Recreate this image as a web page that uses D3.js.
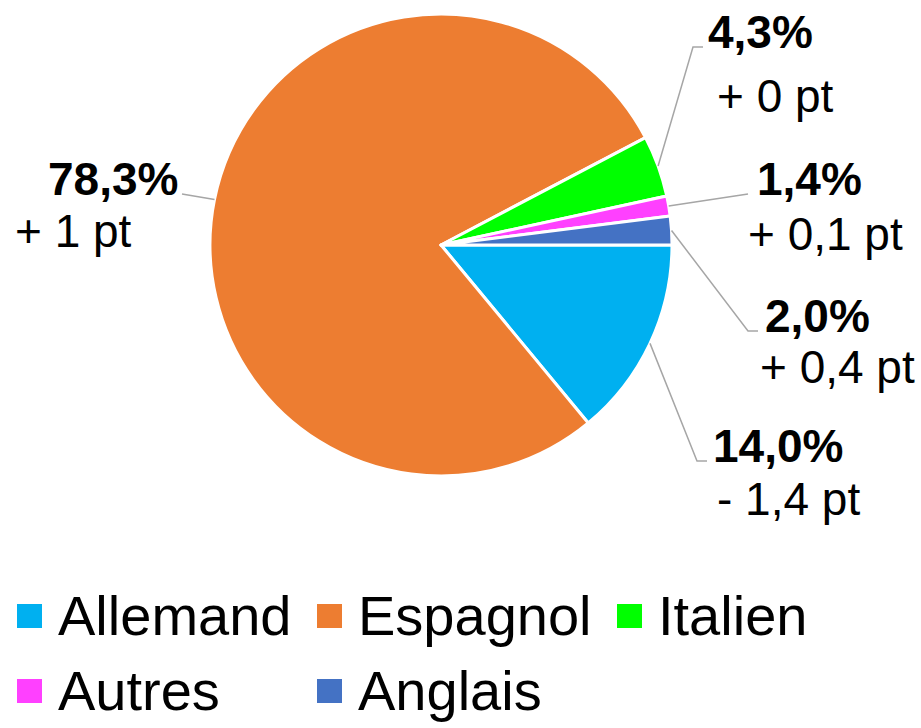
<!DOCTYPE html>
<html>
<head>
<meta charset="utf-8">
<script src="https://cdn.jsdelivr.net/npm/d3@7"></script>
<style>
  html, body { margin: 0; padding: 0; background: #fff; }
  svg { display: block; font-family: "Liberation Sans", Arial, sans-serif; }
</style>
</head>
<body>
<svg id="chart" width="921" height="728"></svg>
<script>
// ---- data ----
const categories = ["Allemand", "Espagnol", "Italien", "Autres", "Anglais"];
const shares = [14.0, 78.3, 4.3, 1.4, 2.0];
const changes = ["- 1,4 pt", "+ 1 pt", "+ 0 pt", "+ 0,1 pt", "+ 0,4 pt"];
const colors = ["#00B0F0", "#ED7D31", "#00FF00", "#FF40FF", "#4472C4"];

// ---- layout ----
const W = 921, H = 728;
const cx = 441, cy = 245, R = 231;

// label layout per slice (percent line x/baseline, change line x/baseline, elbow x)
const labelLayout = [
  { px: 713, py: 462, cx: 717, cy: 515, lx: 707, elbow: 697 },
  { px: 48,  py: 195, cx: 15,  cy: 247, lx: 182, elbow: null },
  { px: 708, py: 48,  cx: 717, cy: 112, lx: 703, elbow: 693 },
  { px: 757, py: 195, cx: 748, cy: 250, lx: 748, elbow: null },
  { px: 765, py: 332, cx: 760, cy: 383, lx: 758, elbow: 748 }
];

const svg = d3.select("#chart");
svg.append("rect").attr("width", W).attr("height", H).attr("fill", "#fff");

const data = categories.map((c, i) => ({ name: c, value: shares[i], change: changes[i], color: colors[i], i }));

const pie = d3.pie().value(d => d.value).sort(null)
  .startAngle(Math.PI / 2).endAngle(Math.PI / 2 + 2 * Math.PI);
const arcs = pie(data);
const arc = d3.arc().innerRadius(0).outerRadius(R);

const g = svg.append("g").attr("transform", `translate(${cx},${cy})`);
g.selectAll("path.slice").data(arcs).join("path")
  .attr("class", "slice")
  .attr("d", arc)
  .attr("fill", d => d.data.color)
  .attr("stroke", "#fff")
  .attr("stroke-width", 3)
  .attr("stroke-linejoin", "round");

const fmt = v => v.toFixed(1).replace(".", ",") + "%";

// leader lines & labels
arcs.forEach((a, i) => {
  const L = labelLayout[i];
  const mid = (a.startAngle + a.endAngle) / 2;
  const ex = cx + R * Math.sin(mid);
  const ey = cy - R * Math.cos(mid);
  const pts = [[L.lx, L.py - 1]];
  if (L.elbow !== null) pts.push([L.elbow, L.py - 1]);
  pts.push([ex, ey]);
  svg.append("path")
    .attr("d", d3.line()(pts))
    .attr("fill", "none")
    .attr("stroke", "#A6A6A6")
    .attr("stroke-width", 1.5);

  svg.append("text")
    .attr("x", L.px).attr("y", L.py)
    .attr("font-size", 46).attr("font-weight", "bold").attr("fill", "#000")
    .text(fmt(a.data.value));
  svg.append("text")
    .attr("x", L.cx).attr("y", L.cy)
    .attr("font-size", 46).attr("fill", "#000")
    .text(a.data.change);
});

// legend
const legendCols = [17, 317, 617];
const legendRows = [635, 710];
const legend = svg.append("g");
data.forEach((d, i) => {
  const col = i % 3, row = Math.floor(i / 3);
  const x = legendCols[col], y = legendRows[row];
  legend.append("rect")
    .attr("x", x).attr("y", y - 31).attr("width", 25).attr("height", 24)
    .attr("fill", d.color);
  legend.append("text")
    .attr("x", x + 41).attr("y", y)
    .attr("font-size", 56).attr("fill", "#000")
    .text(d.name);
});
</script>
</body>
</html>
